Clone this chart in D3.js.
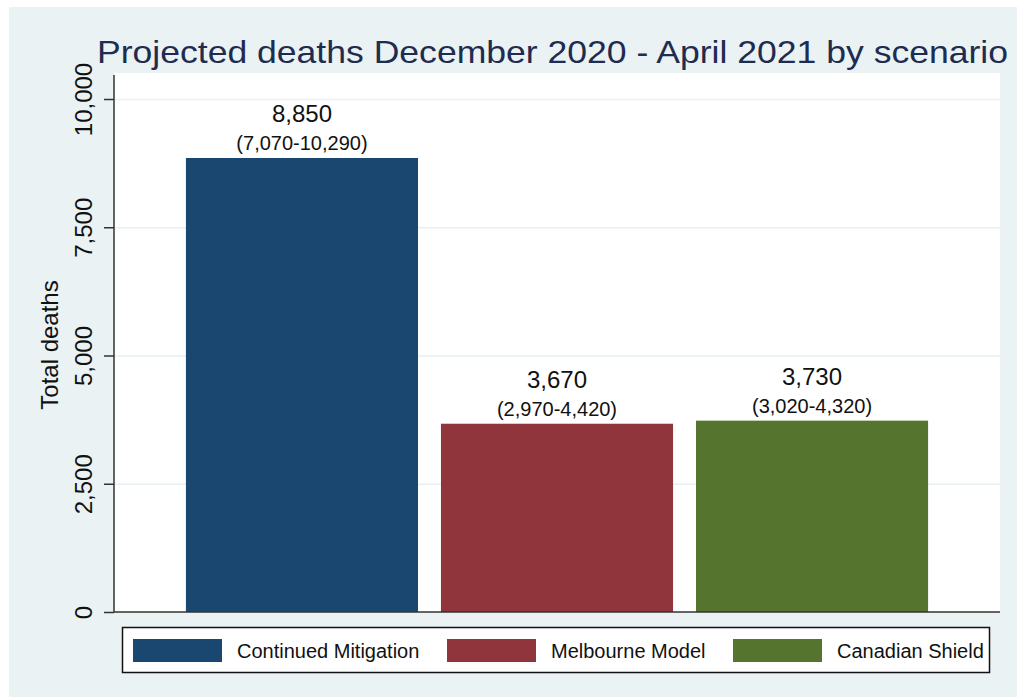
<!DOCTYPE html>
<html lang="en">
<head>
<meta charset="UTF-8">
<title>Projected deaths by scenario</title>
<script src="https://d3js.org/d3.v7.min.js"></script>
<style>
  html, body { margin: 0; padding: 0; background: #ffffff; }
  svg { display: block; font-family: "Liberation Sans", Arial, sans-serif; }
  .grid line { stroke: #e6eff1; stroke-width: 1.5; }
  .grid path { stroke-width: 0; }
</style>
</head>
<body>
<div id="chart"></div>
<script>
// Chart data
const scenarios = ["Continued Mitigation", "Melbourne Model", "Canadian Shield"];
const deaths = [8850, 3670, 3730];
const lower = [7070, 2970, 3020];
const upper = [10290, 4420, 4320];
const yTicks = [0, 2500, 5000, 7500, 10000];
const colors = ["#1a476f", "#90353b", "#55752f"];

const width = 1017, height = 698;
// plot region
const plot = { left: 114, right: 1000, top: 73, bottom: 612 };

const svg = d3.select("#chart").append("svg")
  .attr("width", width)
  .attr("height", height);

// graph region background
svg.append("rect")
  .attr("x", 9).attr("y", 7)
  .attr("width", width - 9).attr("height", 690)
  .attr("fill", "#eaf2f3");

// plot region
svg.append("rect")
  .attr("x", plot.left).attr("y", plot.top)
  .attr("width", plot.right - plot.left).attr("height", plot.bottom - plot.top)
  .attr("fill", "#ffffff");

const x = d3.scaleBand()
  .domain(scenarios)
  .range([plot.left, plot.right])
  .paddingInner(0.09)
  .paddingOuter(0.282);

const y = d3.scaleLinear()
  .domain([0, 10000])
  .range([plot.bottom, 99]);

// gridlines
svg.append("g")
  .attr("class", "grid")
  .attr("transform", `translate(${plot.left},0)`)
  .call(d3.axisLeft(y).tickValues(yTicks.slice(1)).tickSize(-(plot.right - plot.left)).tickFormat(""));

// bars
svg.selectAll(".bar")
  .data(scenarios)
  .enter()
  .append("rect")
  .attr("class", "bar")
  .attr("x", d => x(d))
  .attr("y", (d, i) => y(deaths[i]))
  .attr("width", x.bandwidth())
  .attr("height", (d, i) => y(0) - y(deaths[i]))
  .attr("fill", (d, i) => colors[i]);

// value labels
svg.selectAll(".val")
  .data(scenarios)
  .enter()
  .append("text")
  .attr("x", d => x(d) + x.bandwidth() / 2)
  .attr("y", (d, i) => y(deaths[i]) - 36)
  .attr("text-anchor", "middle")
  .attr("font-size", "24px")
  .attr("fill", "#111")
  .text((d, i) => d3.format(",")(deaths[i]));

svg.selectAll(".range")
  .data(scenarios)
  .enter()
  .append("text")
  .attr("x", d => x(d) + x.bandwidth() / 2)
  .attr("y", (d, i) => y(deaths[i]) - 8)
  .attr("text-anchor", "middle")
  .attr("font-size", "20px")
  .attr("fill", "#111")
  .text((d, i) => `(${d3.format(",")(lower[i])}-${d3.format(",")(upper[i])})`);

// y axis
const yAxis = svg.append("g")
  .attr("transform", `translate(${plot.left},0)`)
  .call(d3.axisLeft(y).tickValues(yTicks).tickSize(10).tickPadding(0).tickFormat(d3.format(",")));
yAxis.select(".domain")
  .attr("d", `M0,${plot.top + 2}V${plot.bottom}`)
  .attr("stroke", "#333").attr("stroke-width", 1.5);
yAxis.selectAll(".tick line").attr("stroke", "#333").attr("stroke-width", 1.5);
yAxis.selectAll(".tick text")
  .attr("x", 0).attr("y", 0).attr("dy", 0)
  .attr("transform", "translate(-22,0) rotate(-90)")
  .attr("text-anchor", "middle")
  .attr("font-family", "'Liberation Sans', Arial, sans-serif")
  .attr("font-size", "24px")
  .attr("fill", "#111");

// x axis line
svg.append("line")
  .attr("x1", plot.left).attr("x2", plot.right)
  .attr("y1", plot.bottom).attr("y2", plot.bottom)
  .attr("stroke", "#333").attr("stroke-width", 1.5);

// y axis title
svg.append("text")
  .attr("transform", `translate(58,${345}) rotate(-90)`)
  .attr("text-anchor", "middle")
  .attr("font-size", "24px")
  .attr("fill", "#111")
  .text("Total deaths");

// title (wide rendering in the original, stretched to match)
svg.append("text")
  .attr("x", 97).attr("y", 63)
  .attr("font-size", "32px")
  .attr("fill", "#1e2c4f")
  .attr("textLength", 911)
  .attr("lengthAdjust", "spacingAndGlyphs")
  .text("Projected deaths December 2020 - April 2021 by scenario");

// legend
svg.append("rect")
  .attr("x", 122.5).attr("y", 627.5)
  .attr("width", 867).attr("height", 45)
  .attr("fill", "#ffffff")
  .attr("stroke", "#111").attr("stroke-width", 1.5);

const legendX = [133, 447, 733];
const legend = svg.selectAll(".leg")
  .data(scenarios)
  .enter()
  .append("g")
  .attr("transform", (d, i) => `translate(${legendX[i]},639)`);
legend.append("rect")
  .attr("width", 89).attr("height", 23)
  .attr("fill", (d, i) => colors[i]);
legend.append("text")
  .attr("x", 104).attr("y", 19)
  .attr("font-size", "20px")
  .attr("fill", "#111")
  .text(d => d);
</script>
</body>
</html>
